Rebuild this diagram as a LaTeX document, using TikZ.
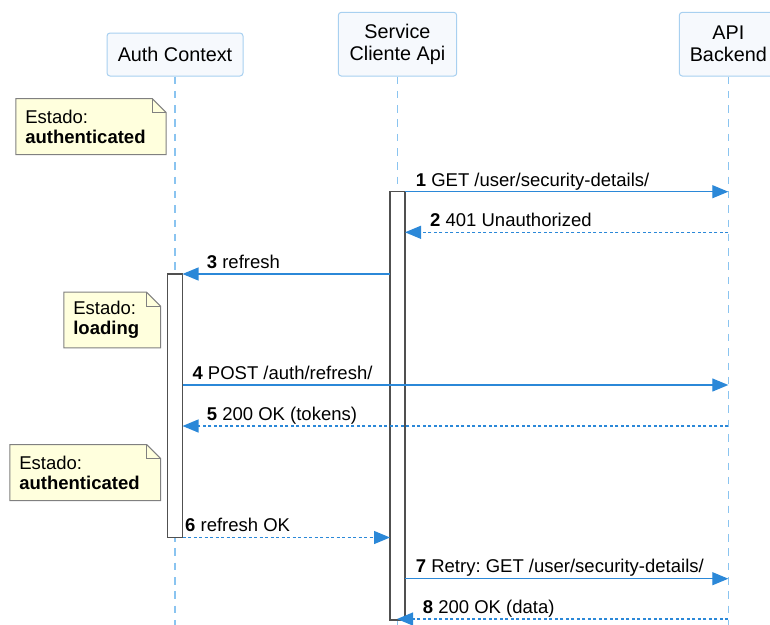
\documentclass[tikz,border=0pt]{standalone}
\usepackage{fontspec}
\setmainfont{Liberation Sans}
\usetikzlibrary{arrows.meta,backgrounds}
\definecolor{msgblue}{HTML}{2B88D8}
\definecolor{lifeblue}{HTML}{8AC4F0}
\definecolor{headfill}{HTML}{F6F9FD}
\definecolor{headdraw}{HTML}{A8D0F0}
\definecolor{notefill}{HTML}{FFFFDD}
\definecolor{notedraw}{HTML}{808080}
\definecolor{actdraw}{HTML}{505050}
\frenchspacing
\begin{document}
\begin{tikzpicture}[x=1pt,y=-1pt,
  head/.style={draw=headdraw, fill=headfill, rounded corners=3pt, line width=1pt,
    align=center, inner sep=0pt, font=\fontsize{19.8}{22}\selectfont},
  lifeline/.style={draw=lifeblue, line width=1.4pt, dash pattern=on 7.5pt off 6.8pt},
  act/.style={draw=actdraw, fill=white, line width=1.5pt, minimum width=15pt, inner sep=0pt},
  msg/.style={draw=msgblue, line width=1.2pt, -{Triangle[length=16pt,width=13pt]}},
  reply/.style={msg, dash pattern=on 3pt off 2.5pt},
  lbl/.style={anchor=base west, inner sep=0pt, font=\fontsize{18.5}{22}\selectfont},
  notetext/.style={inner xsep=9.3pt, inner ysep=0pt, align=left,
    font=\fontsize{18.5}{20}\selectfont},
  notebg/.style={draw=notedraw, fill=notefill, line width=1pt},
  notefold/.style={draw=notedraw, line width=1pt},
]
\useasboundingbox (0,0) rectangle (770,624);

% participants
\node[head, minimum width=136pt, minimum height=43pt] (auth) at (175,54.5) {Auth Context};
\node[head, minimum width=118.4pt, minimum height=63.7pt] (svc) at (397.5,44.2) {Service\\Cliente Api};
\node[head, minimum width=98pt, minimum height=63.7pt] (api) at (728.3,44.2) {API\\Backend};

% lifelines
\coordinate (authBot) at (175,630);
\coordinate (svcBot) at (397.5,630);
\coordinate (apiBot) at (728.3,630);
\draw[lifeline] (auth.south) -- (authBot);
\draw[lifeline] (svc.south) -- (svcBot);
\draw[lifeline] (api.south) -- (apiBot);

% activations
\node[act, minimum height=428.3pt] (actS) at (397.5,405.85) {};
\node[act, minimum height=263.7pt] (actA) at (175,405.85) {};

% message end points
\coordinate (m1a) at (405,191.7);   \coordinate (m1b) at (728.3,191.7);
\coordinate (m2a) at (728.3,232.3); \coordinate (m2b) at (405,232.3);
\coordinate (m3a) at (390,274);     \coordinate (m3b) at (182.5,274);
\coordinate (m4a) at (182.5,385);   \coordinate (m4b) at (728.3,385);
\coordinate (m5a) at (728.3,426);   \coordinate (m5b) at (182.5,426);
\coordinate (m6a) at (182.5,537.5); \coordinate (m6b) at (390,537.5);
\coordinate (m7a) at (405,578.7);   \coordinate (m7b) at (728.3,578.7);
\coordinate (m8a) at (728.3,619);   \coordinate (m8b) at (397,619);

\draw[msg]   (m1a) -- (m1b);
\draw[reply] (m2a) -- (m2b);
\draw[msg]   (m3a) -- (m3b);
\draw[msg]   (m4a) -- (m4b);
\draw[reply] (m5a) -- (m5b);
\draw[reply] (m6a) -- (m6b);
\draw[msg]   (m7a) -- (m7b);
\draw[reply] (m8a) -- (m8b);

% message labels
\node[lbl] (l1) at (415.7,186)   {\textbf{1} GET /user/security-details/};
\node[lbl] (l2) at (430,226.5)   {\textbf{2} 401 Unauthorized};
\node[lbl] (l3) at (206.7,268.2) {\textbf{3} refresh};
\node[lbl] (l4) at (192.3,379.2) {\textbf{4} POST /auth/refresh/};
\node[lbl] (l5) at (206.7,420.2) {\textbf{5} 200 OK (tokens)};
\node[lbl] (l6) at (185,531.7)   {\textbf{6} refresh OK};
\node[lbl] (l7) at (415.7,572.9) {\textbf{7} Retry: GET /user/security-details/};
\node[lbl] (l8) at (422.7,613.2) {\textbf{8} 200 OK (data)};

% state notes
\node[notetext, text width=131.4pt, minimum height=55.6pt] (n1) at (91,126.5)
  {Estado:\\\textbf{authenticated}};
\node[notetext, text width=77.7pt, minimum height=55.4pt] (n2) at (112.2,320)
  {Estado:\\\textbf{loading}};
\node[notetext, text width=131.7pt, minimum height=55.6pt] (n3) at (85.2,472.5)
  {Estado:\\\textbf{authenticated}};

\begin{pgfonlayer}{background}
\foreach \n in {n1,n2,n3} {
  \path[notebg] (\n.north west) -- ([xshift=-14pt]\n.north east)
    -- ([yshift=-14pt]\n.north east) -- (\n.south east) -- (\n.south west) -- cycle;
  \path[notefold] ([xshift=-14pt]\n.north east) -- ([xshift=-14pt,yshift=-14pt]\n.north east)
    -- ([yshift=-14pt]\n.north east);
}
\end{pgfonlayer}
\end{tikzpicture}
\end{document}
